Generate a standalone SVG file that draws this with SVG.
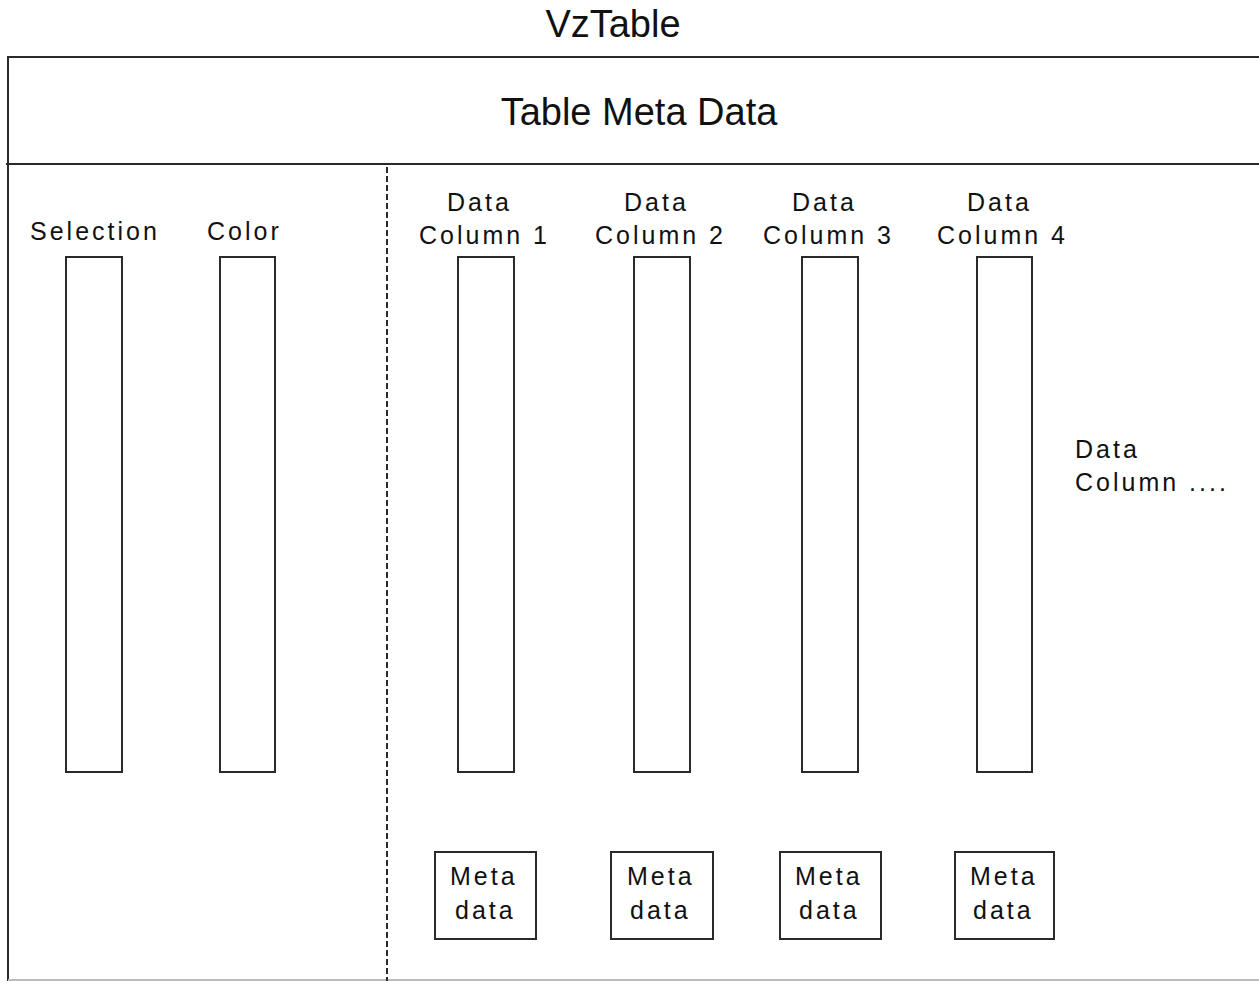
<svg xmlns="http://www.w3.org/2000/svg" width="1259" height="981" viewBox="0 0 1259 981">
  <style>
    .frame { fill: none; stroke: #2a2a2a; stroke-width: 2; }
    .col { fill: #ffffff; stroke: #2a2a2a; stroke-width: 2; }
    .lbl { font-family: "Liberation Sans", Arial, sans-serif; font-size: 25px; letter-spacing: 3px; fill: #111; }
    .big { font-family: "Liberation Sans", Arial, sans-serif; font-size: 38px; fill: #111; }
  </style>
  <rect width="1259" height="981" fill="#ffffff"/>

  <text class="big" x="613" y="37" text-anchor="middle">VzTable</text>

  <!-- table frame -->
  <g id="table-frame">
    <path class="frame" d="M8,981 V57 H1259"/>
    <path class="frame" d="M6,164 H1259"/>
    <path d="M8,980 H1259" stroke="#bbbbbb" stroke-width="2"/>
    <text class="big" x="639" y="125" text-anchor="middle">Table Meta Data</text>
  </g>

  <!-- split between fixed and data columns -->
  <g id="connectors">
    <line x1="387" y1="167" x2="387" y2="981" stroke="#2a2a2a" stroke-width="2" stroke-dasharray="6,3"/>
  </g>

  <g id="selection">
    <text class="lbl" x="30" y="240">Selection</text>
    <rect class="col" x="66" y="257" width="56" height="515"/>
  </g>
  <g id="color">
    <text class="lbl" x="207" y="240">Color</text>
    <rect class="col" x="220" y="257" width="55" height="515"/>
  </g>

  <g id="data-column-1">
    <text class="lbl" x="447" y="211">Data</text>
    <text class="lbl" x="419" y="244">Column 1</text>
    <rect class="col" x="458" y="257" width="56" height="515"/>
  </g>
  <g id="data-column-2">
    <text class="lbl" x="624" y="211">Data</text>
    <text class="lbl" x="595" y="244">Column 2</text>
    <rect class="col" x="634" y="257" width="56" height="515"/>
  </g>
  <g id="data-column-3">
    <text class="lbl" x="792" y="211">Data</text>
    <text class="lbl" x="763" y="244">Column 3</text>
    <rect class="col" x="802" y="257" width="56" height="515"/>
  </g>
  <g id="data-column-4">
    <text class="lbl" x="967" y="211">Data</text>
    <text class="lbl" x="937" y="244">Column 4</text>
    <rect class="col" x="977" y="257" width="55" height="515"/>
  </g>
  <g id="data-column-more">
    <text class="lbl" x="1075" y="458">Data</text>
    <text class="lbl" x="1075" y="491">Column ....</text>
  </g>

  <g id="meta-1">
    <rect class="col" x="435" y="852" width="101" height="87"/>
    <text class="lbl" x="450" y="885">Meta</text>
    <text class="lbl" x="455" y="919">data</text>
  </g>
  <g id="meta-2">
    <rect class="col" x="611" y="852" width="102" height="87"/>
    <text class="lbl" x="627" y="885">Meta</text>
    <text class="lbl" x="630" y="919">data</text>
  </g>
  <g id="meta-3">
    <rect class="col" x="780" y="852" width="101" height="87"/>
    <text class="lbl" x="795" y="885">Meta</text>
    <text class="lbl" x="799" y="919">data</text>
  </g>
  <g id="meta-4">
    <rect class="col" x="955" y="852" width="99" height="87"/>
    <text class="lbl" x="970" y="885">Meta</text>
    <text class="lbl" x="973" y="919">data</text>
  </g>
</svg>
